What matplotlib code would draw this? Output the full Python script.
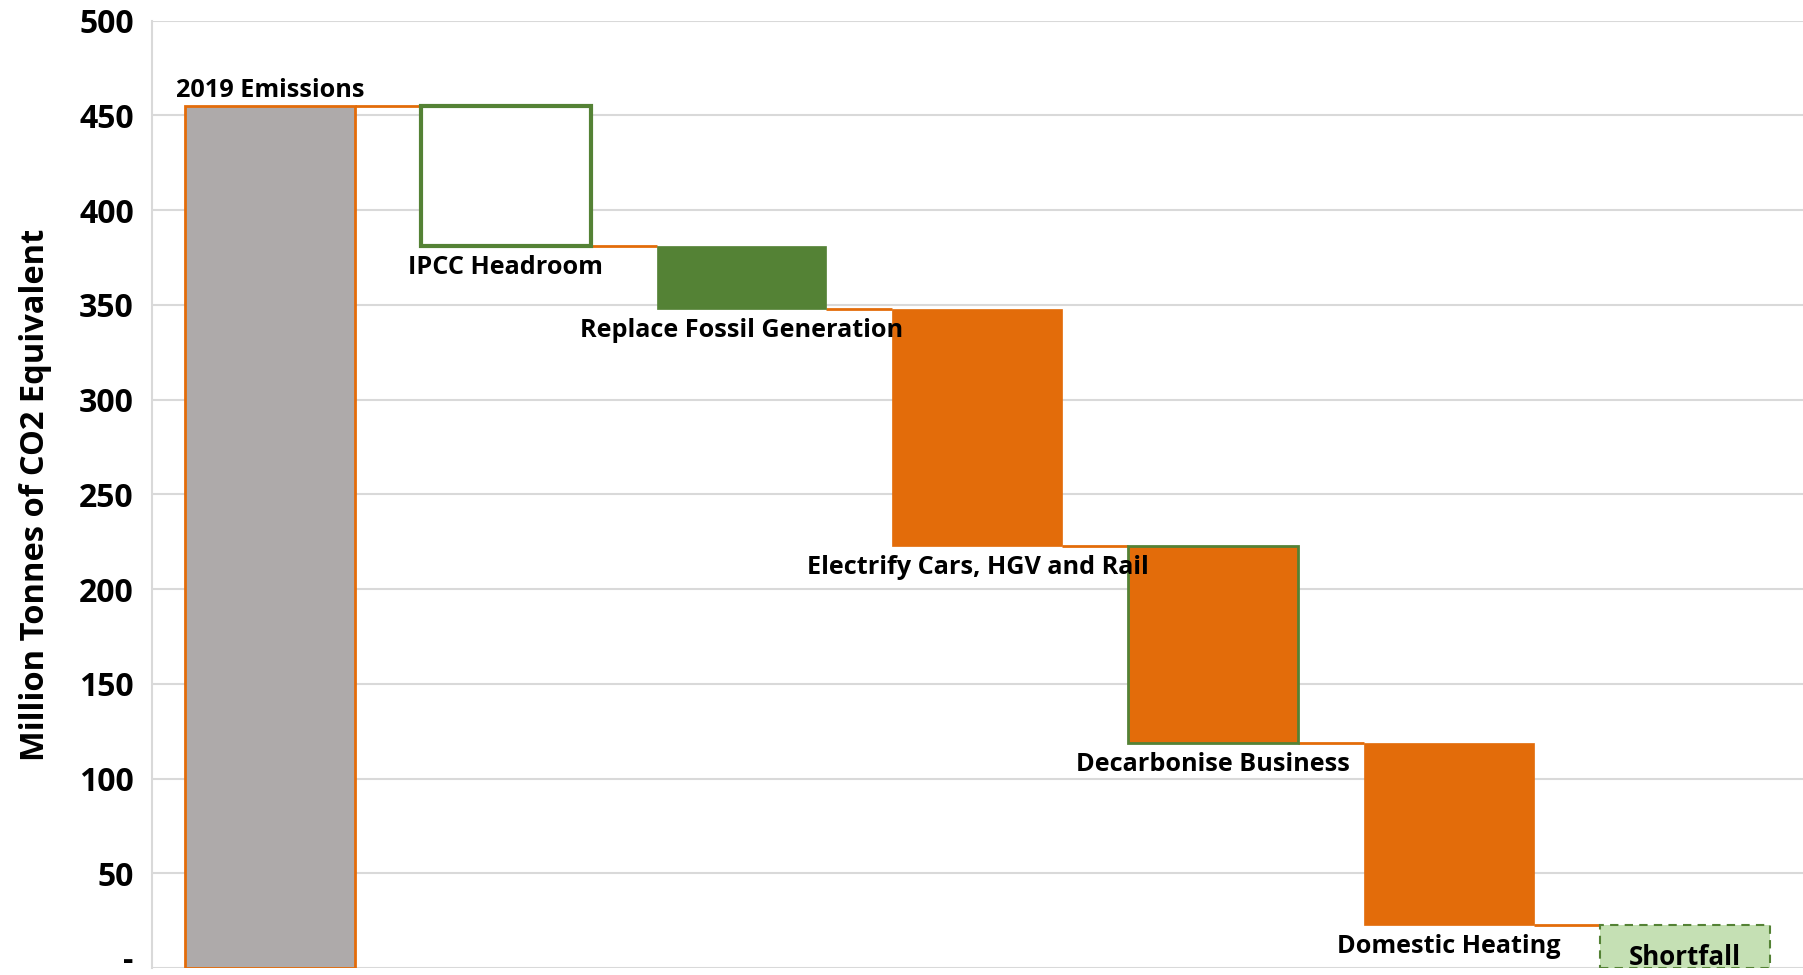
import matplotlib
matplotlib.use("Agg")
import matplotlib.pyplot as plt
import matplotlib.transforms as mtransforms
import numpy as np

# Waterfall: 2019 emissions stepping down to the remaining shortfall
categories = ["2019 Emissions", "IPCC Headroom", "Replace Fossil Generation",
              "Electrify Cars, HGV and Rail", "Decarbonise Business",
              "Domestic Heating", "Shortfall"]
start_total = 455
reductions = [74, 33, 125, 104, 96]          # IPCC headroom .. domestic heating
shortfall = 23

y_ticks = [0, 50, 100, 150, 200, 250, 300, 350, 400, 450, 500]
y_tick_labels = ["-", "50", "100", "150", "200", "250", "300", "350", "400", "450", "500"]

ORANGE = "#E36C0A"
GREEN = "#548235"
LIGHT_GREEN = "#C5E0B4"
GREY = "#AEAAAA"
GRID = "#D9D9D9"

plt.rcParams["font.family"] = ["Open Sans", "DejaVu Sans"]
plt.rcParams["font.weight"] = "bold"

fig = plt.figure(figsize=(18.03, 9.75), dpi=100)
ax = fig.add_axes([0.0842, 0.0070, 1 - 0.0842, 0.9788 - 0.0070])

x = np.arange(len(categories))
width = 0.72

# running levels after each step
levels = [start_total]
for r in reductions:
    levels.append(levels[-1] - r)

# bars
ax.bar(x[0], start_total, width=width, color=GREY, edgecolor=ORANGE, linewidth=2, zorder=3)
step_styles = [
    dict(color="white", edgecolor=GREEN, linewidth=3),
    dict(color=GREEN, edgecolor=GREEN, linewidth=0.5),
    dict(color=ORANGE, edgecolor=ORANGE, linewidth=0.5),
    dict(color=ORANGE, edgecolor=GREEN, linewidth=2),
    dict(color=ORANGE, edgecolor=ORANGE, linewidth=0.5),
]
for i, r in enumerate(reductions):
    ax.bar(x[i + 1], r, bottom=levels[i + 1], width=width, zorder=3, **step_styles[i])
ax.bar(x[6], shortfall, width=width, color=LIGHT_GREEN, edgecolor=GREEN,
       linewidth=1.5, linestyle=(0, (4, 3)), zorder=3)

# connector lines between consecutive bars
for i in range(len(categories) - 1):
    lvl = levels[i] if i < len(levels) else shortfall
    ax.plot([x[i] + width / 2, x[i + 1] - width / 2], [lvl, lvl],
            color=ORANGE, linewidth=2, zorder=2, solid_capstyle="butt")

# category labels
label_kw = dict(ha="center", va="center", fontsize=18.2, fontweight="bold",
                textcoords="offset points", color="black", zorder=5)
ax.annotate(categories[0], (x[0], start_total), xytext=(0, 11), **label_kw)
for i in range(len(reductions)):
    ax.annotate(categories[i + 1], (x[i + 1], levels[i + 1]), xytext=(0, -15.5), **label_kw)
shortfall_kw = dict(label_kw)
shortfall_kw["fontsize"] = 18.6
ax.annotate(categories[6], (x[6], 0), xytext=(0, 8), **shortfall_kw)

# axes styling
ax.set_xlim(-0.5, 6.5)
ax.set_ylim(0, 500)
ax.set_yticks(y_ticks)
ax.set_yticklabels(y_tick_labels, fontsize=23, fontweight="bold")
ax.tick_params(axis="y", length=0, pad=13)
# lift the zero label slightly so it stays inside the canvas
zero_label = ax.get_yticklabels()[0]
zero_label.set_transform(zero_label.get_transform() +
                         mtransforms.ScaledTranslation(0, 8 / 72, fig.dpi_scale_trans))
ax.set_xticks([])
ax.grid(axis="y", color=GRID, linewidth=1.5, zorder=0)
ax.set_axisbelow(True)
for side in ["top", "right", "bottom"]:
    ax.spines[side].set_visible(False)
ax.spines["left"].set_color(GRID)
ax.spines["left"].set_linewidth(1.5)
ax.set_ylabel("Million Tonnes of CO2 Equivalent", fontsize=23.5, fontweight="bold")
ax.yaxis.set_label_coords(-0.0605, 0.5)

fig.savefig("out.png", dpi=100)
